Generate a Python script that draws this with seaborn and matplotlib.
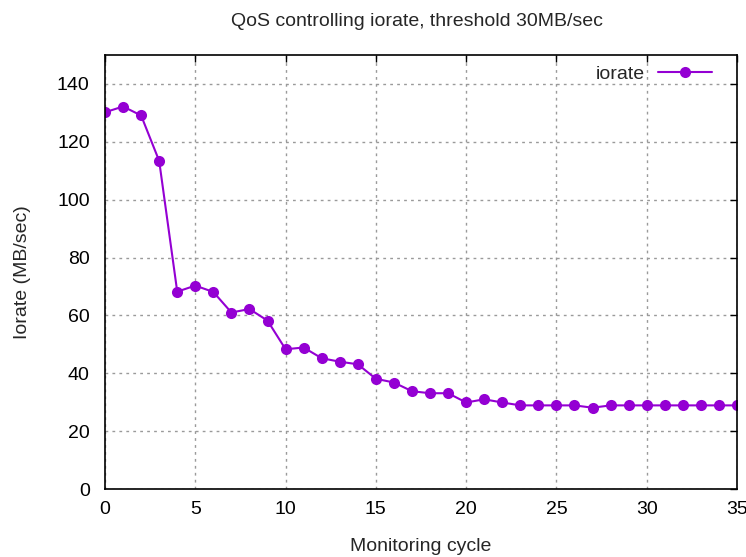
import matplotlib
matplotlib.use("Agg")
import matplotlib.pyplot as plt
import seaborn as sns
import pandas as pd

cycles = list(range(36))
iorate = [130.2, 132.2, 129.1, 113.4, 68.2, 70.3, 68.1, 61.0, 62.2, 58.2,
          48.3, 48.9, 45.2, 44.0, 43.1, 38.1, 36.8, 33.8, 33.1, 33.1,
          29.9, 31.0, 29.9, 28.9, 28.9, 28.9, 28.9, 28.1, 28.9, 28.9,
          28.9, 28.9, 28.9, 28.9, 28.9, 28.9]
xticks = [0, 5, 10, 15, 20, 25, 30, 35]
yticks = [0, 20, 40, 60, 80, 100, 120, 140]

df = pd.DataFrame({"cycle": cycles, "iorate": iorate, "series": "iorate"})

sns.set_style("white")
plt.rcParams['font.family'] = ['Liberation Sans', 'DejaVu Sans']

fig = plt.figure(figsize=(7.46, 5.57), dpi=100)
ax = fig.add_axes([105/746, 1 - 489/557, 632/746, 434/557])

sns.lineplot(data=df, x="cycle", y="iorate", hue="series", palette=["#9400D3"],
             marker="o", markersize=8, linewidth=1.5, markeredgewidth=0,
             ax=ax)

ax.set_xlim(0, 35)
ax.set_ylim(0, 150)
ax.set_xticks(xticks)
ax.set_yticks(yticks)
ax.tick_params(axis='both', direction='in', length=5, width=1, labelsize=14,
               top=True, right=True, colors='black')
ax.tick_params(axis='x', pad=9)
ax.tick_params(axis='y', pad=11)
for s in ax.spines.values():
    s.set_visible(True)
    s.set_color('black')
    s.set_linewidth(1.2)
ax.grid(True, linestyle=(0, (2, 3)), color='#9a9a9a', linewidth=1)
ax.set_axisbelow(True)

ax.set_xlabel("Monitoring cycle", fontsize=14)
ax.set_ylabel("Iorate (MB/sec)", fontsize=14)
ax.xaxis.set_label_coords(0.5, -0.114)
ax.yaxis.set_label_coords(-0.117, 0.5)
fig.text(417/746, 1 - 21/557, "QoS controlling iorate, threshold 30MB/sec",
         fontsize=14, ha='center', va='center')

handles, labels = ax.get_legend_handles_labels()
ax.legend(handles, labels, loc='upper right', frameon=False, markerfirst=False,
          fontsize=14, handlelength=2.8, handletextpad=0.65, borderpad=0,
          borderaxespad=0, numpoints=1, bbox_to_anchor=((712-105)/632, 0.977))

fig.savefig("out.png", dpi=100)
